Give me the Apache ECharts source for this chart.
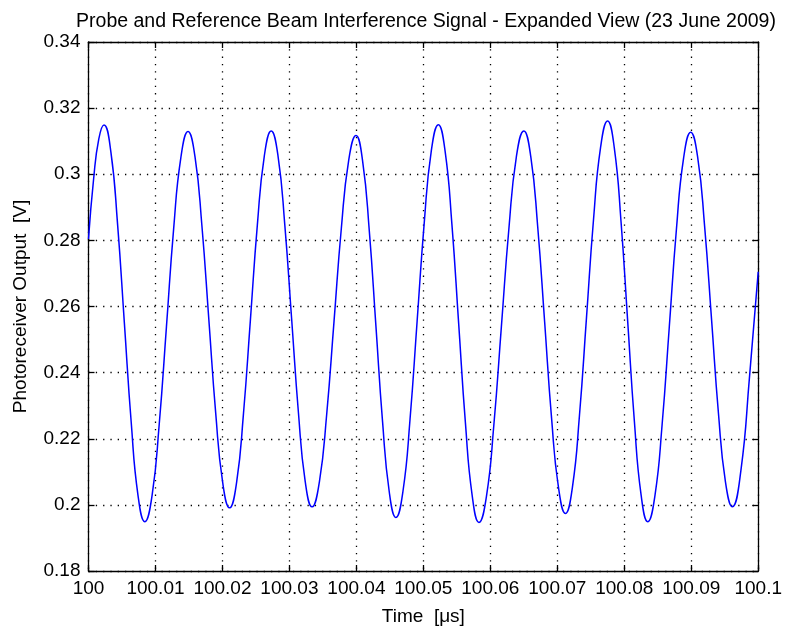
<!DOCTYPE html>
<html>
<head>
<meta charset="utf-8">
<script src="https://cdn.jsdelivr.net/npm/echarts@6/dist/echarts.min.js"></script>
<style>
html,body{margin:0;padding:0;background:#fff;}
#chart{width:785px;height:632px;}
</style>
</head>
<body>
<div id="chart"></div>
<script>
// Time in microseconds
const time = [
100.00000,100.00077,100.00154,100.00231,100.00333,100.00434,100.00536,100.00638,100.00739,100.00841,
100.00949,100.01056,100.01164,100.01271,100.01379,100.01486,100.01590,100.01693,100.01797,100.01900,
100.02004,100.02107,100.02211,100.02314,100.02418,100.02521,100.02625,100.02728,100.02830,100.02931,
100.03033,100.03135,100.03236,100.03338,100.03447,100.03557,100.03666,100.03775,100.03885,100.03994,
100.04093,100.04193,100.04292,100.04391,100.04491,100.04590,100.04696,100.04801,100.04907,100.05013,
100.05118,100.05224,100.05325,100.05426,100.05527,100.05628,100.05729,100.05830,100.05942,100.06053,
100.06165,100.06277,100.06388,100.06500,100.06604,100.06707,100.06811,100.06914,100.07018,100.07121,
100.07226,100.07331,100.07436,100.07541,100.07646,100.07751,100.07851,100.07951,100.08051,100.08151,
100.08251,100.08351,100.08458,100.08565,100.08672,100.08778,100.08885,100.08992,100.09096,100.09199,
100.09303,100.09406,100.09510,100.09613,100.09742,100.09871,100.10000
];
// Photoreceiver output in volts
const voltage = [
0.2804,0.2987,0.3107,0.3149,0.3069,0.2849,0.2549,0.2249,0.2029,0.1949,
0.2028,0.2244,0.2539,0.2834,0.3050,0.3129,0.3053,0.2845,0.2560,0.2276,
0.2067,0.1991,0.2067,0.2276,0.2561,0.2846,0.3055,0.3131,0.3055,0.2847,
0.2563,0.2278,0.2070,0.1994,0.2069,0.2275,0.2555,0.2836,0.3042,0.3117,
0.3040,0.2828,0.2540,0.2251,0.2039,0.1962,0.2042,0.2259,0.2556,0.2853,
0.3070,0.3150,0.3069,0.2849,0.2549,0.2248,0.2028,0.1947,0.2026,0.2243,
0.2539,0.2835,0.3052,0.3131,0.3053,0.2842,0.2553,0.2263,0.2052,0.1974,
0.2054,0.2271,0.2567,0.2864,0.3081,0.3161,0.3080,0.2858,0.2555,0.2252,
0.2030,0.1949,0.2028,0.2243,0.2538,0.2832,0.3048,0.3127,0.3051,0.2844,
0.2561,0.2277,0.2070,0.1994,0.2105,0.2390,0.2705
];
const xTickLabels = ['100','100.01','100.02','100.03','100.04','100.05','100.06','100.07','100.08','100.09','100.1'];
const yTickLabels = ['0.18','0.2','0.22','0.24','0.26','0.28','0.3','0.32','0.34'];

const FONT = '"Liberation Sans", Arial, sans-serif';
const chart = echarts.init(document.getElementById('chart'));
const grid = {left: 88.5, right: 25, top: 42, bottom: 61};
const gridLine = {show: true, lineStyle: {color: '#000', width: 1.3, type: [1.3, 6]}};
const axisLineS = {show: true, lineStyle: {color: '#000', width: 1.3}};
const tickS = {show: true, inside: true, length: 6, lineStyle: {color: '#000', width: 1.3}};

const xLbl = v => xTickLabels[Math.round((v - 100) / 0.01)];
const yLbl = v => yTickLabels[Math.round((v - 0.18) / 0.02)];

chart.setOption({
  animation: false,
  backgroundColor: '#fff',
  title: {
    text: 'Probe and Reference Beam Interference Signal - Expanded View (23 June 2009)',
    left: 421, top: 7, textAlign: 'center',
    textStyle: {fontFamily: FONT, fontSize: 19.5, fontWeight: 'normal', color: '#000'}
  },
  grid: grid,
  xAxis: [{
    type: 'value', min: 100, max: 100.1, interval: 0.01,
    name: 'Time  [μs]', nameLocation: 'middle', nameGap: 36,
    nameTextStyle: {fontFamily: FONT, fontSize: 19, color: '#000'},
    axisLine: axisLineS, axisTick: tickS, splitLine: gridLine,
    axisLabel: {formatter: xLbl, fontFamily: FONT, fontSize: 19, color: '#000', margin: 8, showMaxLabel: true, showMinLabel: true}
  }, {
    type: 'value', min: 100, max: 100.1, interval: 0.01, position: 'top',
    axisLine: axisLineS, axisTick: tickS, splitLine: {show: false}, axisLabel: {show: false}
  }],
  yAxis: [{
    type: 'value', min: 0.18, max: 0.34, interval: 0.02,
    name: 'Photoreceiver Output  [V]', nameLocation: 'middle', nameGap: 58, nameRotate: 90,
    nameTextStyle: {fontFamily: FONT, fontSize: 19, color: '#000'},
    axisLine: axisLineS, axisTick: tickS, splitLine: gridLine,
    axisLabel: {formatter: yLbl, fontFamily: FONT, fontSize: 19, color: '#000', margin: 8}
  }, {
    type: 'value', min: 0.18, max: 0.34, interval: 0.02, position: 'right',
    axisLine: axisLineS, axisTick: tickS, splitLine: {show: false}, axisLabel: {show: false}
  }],
  series: [{
    type: 'line',
    data: time.map((t, i) => [t, voltage[i]]),
    showSymbol: false,
    smooth: 0.5,
    lineStyle: {color: '#0000FF', width: 1.5},
    clip: true
  }]
});
</script>
</body>
</html>
